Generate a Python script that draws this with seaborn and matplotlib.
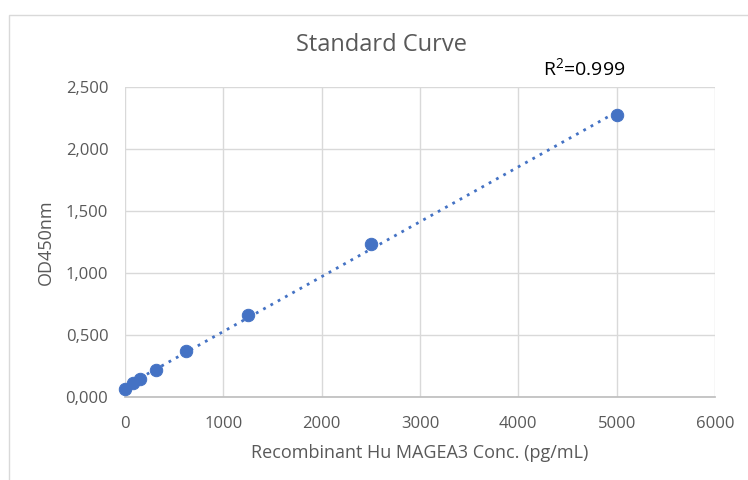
import numpy as np
import pandas as pd
import seaborn as sns
import matplotlib.pyplot as plt
from matplotlib.ticker import FuncFormatter
from matplotlib.patches import Rectangle

# standard curve data
conc = [0, 78, 156, 312, 625, 1250, 2500, 5000]
od450 = [0.065, 0.11, 0.145, 0.218, 0.37, 0.66, 1.234, 2.272]
r2_label = "R$^2$=0.999"

df = pd.DataFrame({"conc": conc, "od": od450})

sns.set_theme(style="whitegrid")
plt.rcParams["font.family"] = ["Open Sans", "DejaVu Sans"]
plt.rcParams["mathtext.default"] = "regular"
grey = "#595959"
blue = "#4472C4"

fig = plt.figure(figsize=(7.48, 4.8), dpi=100)
ax = fig.add_axes([125 / 748, 1 - 397 / 480, 590 / 748, 310 / 480])

# linear trendline (dotted)
slope, intercept = np.polyfit(df["conc"], df["od"], 1)
xs = np.array([df["conc"].min(), df["conc"].max()])
ax.plot(xs, slope * xs + intercept, color=blue, lw=2, ls=(0, (1, 2)), zorder=2)

sns.scatterplot(data=df, x="conc", y="od", ax=ax, color=blue, s=80,
                edgecolor=blue, zorder=3, clip_on=False)

ax.set_xlim(0, 6000)
ax.set_ylim(0, 2.5)
ax.set_xticks(range(0, 6001, 1000))
ax.set_yticks(np.arange(0, 2.51, 0.5))
ax.yaxis.set_major_formatter(FuncFormatter(lambda v, p: f"{v:.3f}".replace(".", ",")))
ax.grid(True, color="#d9d9d9", lw=1)
for side in ["top", "right"]:
    ax.spines[side].set_visible(False)
ax.spines["left"].set_visible(False)
ax.spines["bottom"].set_color("#bfbfbf")
ax.tick_params(colors=grey, labelsize=12, length=0)
ax.tick_params(axis="x", pad=14)
ax.tick_params(axis="y", pad=12)

ax.set_xlabel("Recombinant Hu MAGEA3 Conc. (pg/mL)", color=grey, fontsize=13, labelpad=8)
ax.set_ylabel("OD450nm", color=grey, fontsize=13, labelpad=8)
fig.text(381 / 748, 1 - 45 / 480, "Standard Curve", ha="center", va="center",
         color=grey, fontsize=17)
fig.text(584 / 748, 1 - 68 / 480, r2_label, ha="center", va="center",
         color="black", fontsize=14)

# chart area border
fig.patches.append(Rectangle((9 / 748, -0.1), 1.2, 1 - 15 / 480 + 0.1,
                             transform=fig.transFigure, fill=False,
                             edgecolor="#d9d9d9", lw=1))

fig.savefig("out.png", dpi=100)
